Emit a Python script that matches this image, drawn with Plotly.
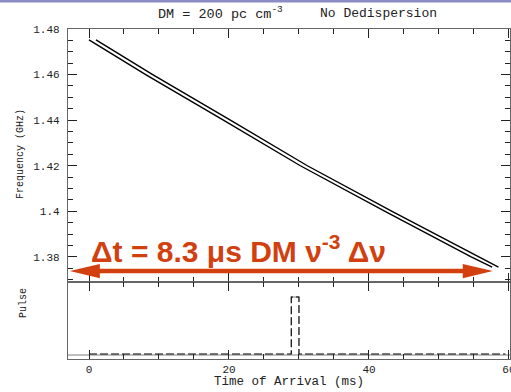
import plotly.graph_objects as go

# ---- data ----
freq_lead = [1.4752, 1.46, 1.44, 1.42, 1.40, 1.38, 1.3755]
t_lead = [0.0, 8.1, 19.2, 30.2, 42.3, 54.6, 57.6]
freq_trail = [1.4752, 1.46, 1.44, 1.42, 1.40, 1.38, 1.3755]
t_trail = [1.0, 9.1, 20.2, 31.2, 43.3, 55.6, 58.5]

pulse_t = [0.0, 28.9, 28.9, 30.0, 30.0, 59.5]
pulse_v = [0.0, 0.0, 1.0, 1.0, 0.0, 0.0]

x_ticks = [0, 20, 40, 60]
y_ticks = [1.38, 1.40, 1.42, 1.44, 1.46, 1.48]
y_ticklabels = ["1.38", "1.4", "1.42", "1.44", "1.46", "1.48"]

arrow_t = [-2.75, 57.7]
arrow_freq = 1.3738

RED = "#d2400f"
FRAME = "#666666"
FONT = "Liberation Mono"

fig = go.Figure()

fig.add_trace(go.Scatter(x=t_lead, y=freq_lead, mode="lines",
                         line=dict(color="black", width=1.4), xaxis="x", yaxis="y"))
fig.add_trace(go.Scatter(x=t_trail, y=freq_trail, mode="lines",
                         line=dict(color="black", width=1.4), xaxis="x", yaxis="y"))

# lower panel: gray baseline + dashed pulse
fig.add_trace(go.Scatter(x=[-3, 60.2], y=[-0.02, -0.02], mode="lines",
                         line=dict(color="#aaaaaa", width=1.5), xaxis="x2", yaxis="y2"))
fig.add_trace(go.Scatter(x=pulse_t[2:4], y=[1.0, 1.0], mode="lines",
                         line=dict(color="#aaaaaa", width=1.5), xaxis="x2", yaxis="y2"))
fig.add_trace(go.Scatter(x=pulse_t, y=pulse_v, mode="lines",
                         line=dict(color="black", width=1.2, dash="8px,3px"),
                         xaxis="x2", yaxis="y2"))

# red double arrow (shaft + two heads) in data units
head_len = 4.3
head_half = 0.0031
shaft_half = 0.0010
x0, x1 = arrow_t
yc = arrow_freq
path = (f"M{x0},{yc} L{x0+head_len},{yc+head_half} L{x0+head_len},{yc+shaft_half} "
        f"L{x1-head_len},{yc+shaft_half} L{x1-head_len},{yc+head_half} L{x1},{yc} "
        f"L{x1-head_len},{yc-head_half} L{x1-head_len},{yc-shaft_half} "
        f"L{x0+head_len},{yc-shaft_half} L{x0+head_len},{yc-head_half} Z")
fig.add_shape(type="path", path=path, xref="x", yref="y",
              fillcolor=RED, line=dict(width=0), layer="above")

# top decorative bar
fig.add_shape(type="rect", xref="paper", yref="paper",
              x0=-0.2, x1=1.2, ysizemode="pixel", yanchor=1, y0=26.5, y1=29.5,
              fillcolor="#8c8cc4", line=dict(width=0))

axis_common = dict(showgrid=False, zeroline=False, showline=True, linecolor=FRAME,
                   linewidth=1.3, mirror="allticks", ticks="inside", ticklen=9,
                   tickcolor="#222222", tickwidth=1, automargin=False,
                   tickfont=dict(family=FONT, size=11, color="#222222"))

fig.update_layout(
    width=511, height=392,
    margin=dict(l=68, r=1, t=29, b=33),
    paper_bgcolor="white", plot_bgcolor="white",
    showlegend=False,
    xaxis=dict(axis_common, domain=[0, 1], range=[-3, 60.15], anchor="y",
               tickvals=x_ticks, showticklabels=False, matches="x2",
               minor=dict(dtick=5, tick0=0, ticklen=5, ticks="inside", tickcolor="#222222")),
    yaxis=dict(axis_common, domain=[0.2333, 1], range=[1.369, 1.48], anchor="x",
               tickvals=y_ticks, ticktext=y_ticklabels, ticklabelstandoff=5,
               minor=dict(dtick=0.005, tick0=1.38, ticklen=5, ticks="inside", tickcolor="#222222")),
    xaxis2=dict(axis_common, domain=[0, 1], range=[-3, 60.15], anchor="y2",
                tickvals=x_ticks, ticklabeloverflow="allow",
                minor=dict(dtick=5, tick0=0, ticklen=5, ticks="inside", tickcolor="#222222")),
    yaxis2=dict(axis_common, domain=[0, 0.2333], range=[-0.088, 1.263], anchor="x2",
                ticks="", showticklabels=False),
)

fig.add_annotation(text="DM = 200 pc cm<sup>-3</sup>",
                   xref="paper", yref="paper", x=0, xshift=156 - 68, xanchor="left",
                   y=1, yshift=16, yanchor="middle", showarrow=False,
                   font=dict(family=FONT, size=13.5, color="#222222"))
fig.add_annotation(text="No Dedispersion",
                   xref="paper", yref="paper", x=0, xshift=318 - 68, xanchor="left",
                   y=1, yshift=16, yanchor="middle", showarrow=False,
                   font=dict(family=FONT, size=13, color="#222222"))
fig.add_annotation(text="Frequency (GHz)", xref="paper", yref="paper",
                   x=0, xshift=-55, y=0.62, textangle=-90, showarrow=False,
                   font=dict(family=FONT, size=10, color="#222222"))
fig.add_annotation(text="Pulse", xref="paper", yref="paper",
                   x=0, xshift=-52, y=0.117, textangle=-90, showarrow=False,
                   font=dict(family=FONT, size=10, color="#222222"))
fig.add_annotation(text="Time of Arrival (ms)", xref="paper", yref="paper",
                   x=0.5, y=0, yshift=-23, yanchor="middle", showarrow=False,
                   font=dict(family=FONT, size=12.5, color="#222222"))
fig.add_annotation(text="Δt = 8.3 μs DM ν<sup>-3</sup> Δν", xref="x", yref="y",
                   x=21.3, y=1.3835, showarrow=False,
                   font=dict(family="Liberation Sans", size=30, color=RED, weight="bold"))

fig.write_html("out.html", config={"displayModeBar": False},
               post_script="document.body.style.margin='0px';")
